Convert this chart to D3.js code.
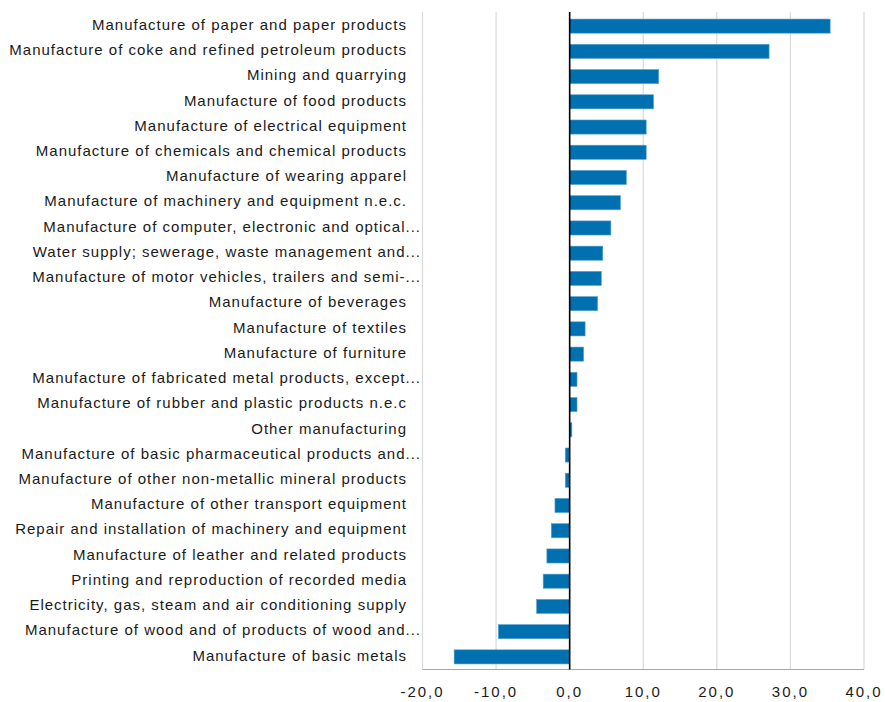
<!DOCTYPE html>
<html>
  <head>
    <meta charset="utf-8">
    <title>Industry bar chart</title>
    <script src="https://d3js.org/d3.v7.min.js"></script>
    <style>
      body { margin: 0; background: #fff; }
      text { font-family: "Liberation Sans", Arial, sans-serif; fill: #1a1a1a; }
      .cat { font-size: 15px; letter-spacing: 1px; }
      .tick-label { font-size: 15px; letter-spacing: 2px; }
    </style>
  </head>
  <body>
    <script>
      var categories = [
        "Manufacture of paper and paper products",
        "Manufacture of coke and refined petroleum products",
        "Mining and quarrying",
        "Manufacture of food products",
        "Manufacture of electrical equipment",
        "Manufacture of chemicals and chemical products",
        "Manufacture of wearing apparel",
        "Manufacture of machinery and equipment n.e.c.",
        "Manufacture of computer, electronic and optical...",
        "Water supply; sewerage, waste management and...",
        "Manufacture of motor vehicles, trailers and semi-...",
        "Manufacture of beverages",
        "Manufacture of textiles",
        "Manufacture of furniture",
        "Manufacture of fabricated metal products, except...",
        "Manufacture of rubber and plastic products n.e.c",
        "Other manufacturing",
        "Manufacture of basic pharmaceutical products and...",
        "Manufacture of other non-metallic mineral products",
        "Manufacture of other transport equipment",
        "Repair and installation of machinery and equipment",
        "Manufacture of leather and related products",
        "Printing and reproduction of recorded media",
        "Electricity, gas, steam and air conditioning supply",
        "Manufacture of wood and of products of wood and...",
        "Manufacture of basic metals"
      ];
      var values = [35.4, 27.1, 12.1, 11.4, 10.4, 10.4, 7.7, 6.9, 5.6, 4.5, 4.3, 3.8, 2.1,
                    1.9, 1.0, 1.0, 0.3, -0.6, -0.6, -2.0, -2.5, -3.1, -3.6, -4.5, -9.7, -15.7];
      var tickValues = [-20, -10, 0, 10, 20, 30, 40];

      var width = 885, height = 702;
      var plotLeft = 422.5, plotRight = 864, plotTop = 13.5, plotBottom = 669.5;

      var data = categories.map(function (c, i) { return { name: c, value: values[i] }; });

      var svg = d3.select("body").append("svg")
        .attr("width", width)
        .attr("height", height);

      var xScale = d3.scaleLinear().domain([-20, 40]).range([plotLeft, plotRight]);
      var yScale = d3.scaleBand().domain(categories).range([plotTop, plotBottom]).paddingInner(0.44).paddingOuter(0.22);

      // gridlines
      svg.selectAll("line.grid").data(tickValues.filter(function (t) { return t !== 0; }))
        .enter().append("line")
        .attr("class", "grid")
        .attr("x1", function (d) { return xScale(d); })
        .attr("x2", function (d) { return xScale(d); })
        .attr("y1", 12)
        .attr("y2", plotBottom)
        .attr("stroke", "#d9d9d9")
        .attr("stroke-width", 1.2);

      // bottom axis line
      svg.append("line")
        .attr("x1", plotLeft).attr("x2", plotRight)
        .attr("y1", plotBottom).attr("y2", plotBottom)
        .attr("stroke", "#a6a6a6");

      // bars
      svg.selectAll("rect.bar").data(data)
        .enter().append("rect")
        .attr("class", "bar")
        .attr("x", function (d) { return xScale(Math.min(0, d.value)); })
        .attr("y", function (d) { return yScale(d.name); })
        .attr("width", function (d) { return Math.abs(xScale(d.value) - xScale(0)); })
        .attr("height", yScale.bandwidth())
        .attr("fill", "#0070b0")
        .attr("stroke", "#5aa3d0")
        .attr("stroke-width", 0.6);

      // zero line
      svg.append("line")
        .attr("x1", xScale(0)).attr("x2", xScale(0))
        .attr("y1", 12).attr("y2", plotBottom)
        .attr("stroke", "#000")
        .attr("stroke-width", 1.6);

      // category labels
      svg.selectAll("text.cat").data(data)
        .enter().append("text")
        .attr("class", "cat")
        .attr("x", function (d) { return /\.\.\.$/.test(d.name) ? 421 : 407; })
        .attr("y", function (d) { return yScale(d.name) + yScale.bandwidth() / 2; })
        .attr("dy", "0.25em")
        .attr("text-anchor", "end")
        .text(function (d) { return d.name; });

      // tick labels
      svg.selectAll("text.tick-label").data(tickValues)
        .enter().append("text")
        .attr("class", "tick-label")
        .attr("x", function (d) { return xScale(d); })
        .attr("y", 697)
        .attr("text-anchor", "middle")
        .text(function (d) { return d3.format(".1f")(d).replace(".", ",").replace("−", "-"); });
    </script>
  </body>
</html>
